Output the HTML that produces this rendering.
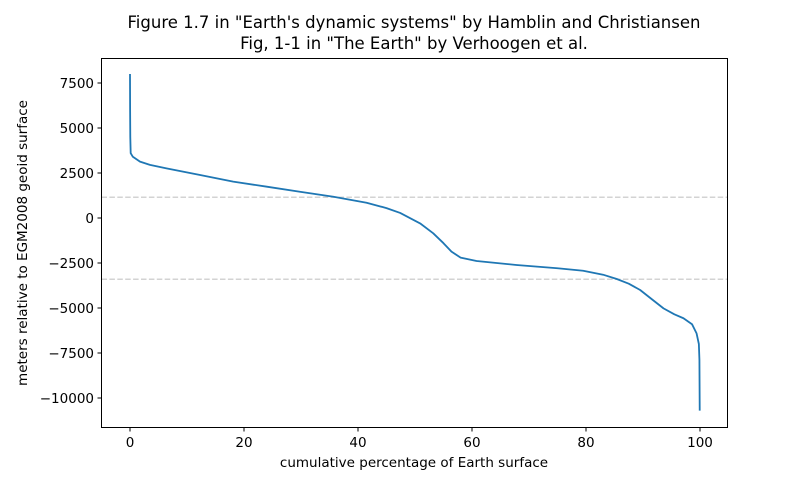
<!DOCTYPE html>
<html><head><meta charset="utf-8"><style>
body{margin:0;background:#fff;}
svg{font-family:"DejaVu Sans","Liberation Sans",sans-serif;}
</style></head><body>
<svg id="chart" width="809" height="480">
<text x="414" y="28" text-anchor="middle" font-size="16.5">Figure 1.7 in "Earth's dynamic systems" by Hamblin and Christiansen</text>
<text x="414" y="49" text-anchor="middle" font-size="16.5">Fig, 1-1 in "The Earth" by Verhoogen et al.</text>
<text x="414" y="467" text-anchor="middle" font-size="13.5">cumulative percentage of Earth surface</text>
<text transform="translate(27,243) rotate(-90)" text-anchor="middle" font-size="13.5">meters relative to EGM2008 geoid surface</text>
<g id="ticks"></g>
<g id="plot"></g>
<rect x="101.5" y="58.5" width="626" height="369" fill="none" stroke="#000" stroke-width="1"/>
</svg>
<script>
const xTicks=[0,20,40,60,80,100];
const yTicks=[7500,5000,2500,0,-2500,-5000,-7500,-10000];
const refLevels=[1150,-3400];
const xs=[0,0.02,0.05,0.12,0.5,1.75,3.5,6.4,12.3,18.1,24,29.8,35.7,41.5,45,47.4,50.9,53.2,55,56.4,58,60.8,67.8,75,79.5,83,85.4,87.5,89.5,91.5,93.6,95.5,97.1,98.6,99.4,99.8,99.9,99.95];
const ys=[8000,6000,4500,3600,3400,3130,2950,2760,2390,2020,1740,1460,1180,850,550,280,-300,-850,-1400,-1870,-2200,-2390,-2610,-2790,-2930,-3150,-3390,-3650,-4000,-4500,-5020,-5350,-5570,-5900,-6410,-7000,-7890,-10700];
const X=v=>130+v*5.7, Y=v=>218-v*0.018;
const NS="http://www.w3.org/2000/svg";
const tg=document.getElementById('ticks'), pg=document.getElementById('plot');
function mk(tag,attrs,parent){const e=document.createElementNS(NS,tag);for(const k in attrs)e.setAttribute(k,attrs[k]);parent.appendChild(e);return e;}
xTicks.forEach(t=>{
  const l=mk('line',{x1:X(t),x2:X(t),y1:427.5,y2:431.5,stroke:'#000'},tg);
  
  
  const s=mk('text',{x:X(t),y:447,'text-anchor':'middle','font-size':13.5},tg);s.textContent=t;
  
  
});
yTicks.forEach(t=>{
  const l=mk('line',{x1:97.5,x2:101.5,y1:Y(t),y2:Y(t),stroke:'#000'},tg);
  
  
  const s=mk('text',{x:94,y:Y(t)+5,'text-anchor':'end','font-size':13.5},tg);s.textContent=String(t).replace('-','\u2212');
  
  
});
refLevels.forEach(r=>{
  const l=mk('line',{x1:101.5,x2:727.5,y1:Y(r),y2:Y(r),stroke:'#d3d3d3','stroke-width':1.5,'stroke-dasharray':'5.5,2.4'},pg);
  
  
});
const p=mk('polyline',{points:xs.map((x,i)=>X(x)+','+Y(ys[i])).join(' '),fill:'none',stroke:'#1f77b4','stroke-width':1.8,'stroke-linejoin':'round'},pg);


</script>
</body></html>
